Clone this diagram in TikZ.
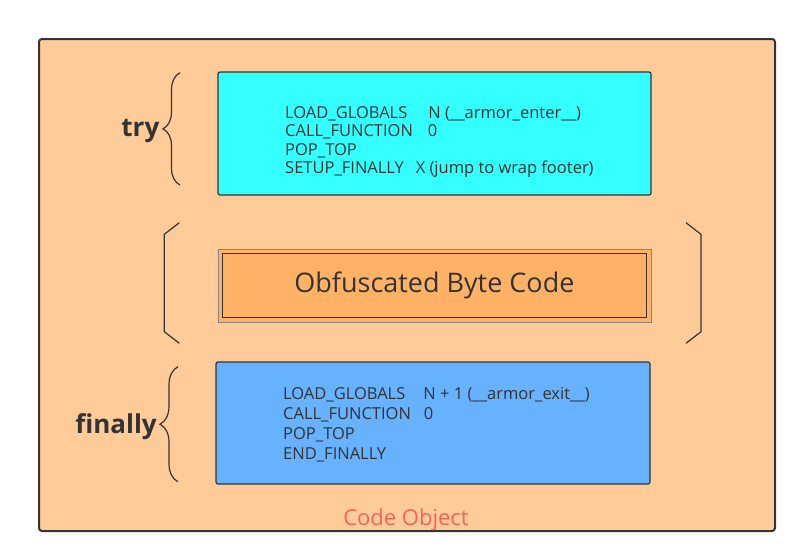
\documentclass[tikz,border=0pt]{standalone}
\usepackage{fontspec}
\setmainfont{Open Sans}
\usetikzlibrary{decorations.pathreplacing}

\definecolor{outerfill}{HTML}{FFCC99}
\definecolor{trycyan}{HTML}{33FFFF}
\definecolor{finblue}{HTML}{66B2FF}
\definecolor{obforange}{HTML}{FFB266}
\definecolor{linegray}{HTML}{333333}
\definecolor{codered}{HTML}{F2645A}

\tikzset{
    codebox/.style={draw=linegray, line width=1.2pt, rounded corners=2pt, inner sep=0pt},
    codetext/.style={font=\fontsize{16.5}{19}\selectfont, text=linegray, align=left, anchor=west, inner sep=0pt},
    blocklabel/.style={font=\fontsize{26}{30}\selectfont\bfseries, text=linegray, inner sep=0pt, anchor=base east},
    bracestyle/.style={decorate, decoration={brace, amplitude=#1}, line width=1.2pt, draw=linegray}
}

\begin{document}
\begin{tikzpicture}[x=1pt, y=-1pt]
    \useasboundingbox[fill=white] (0,0) rectangle (800,558);
    \node[codebox, line width=2pt, rounded corners=3pt, fill=outerfill,
        minimum width=736pt, minimum height=492pt] (codeobj) at (407,285) {};
    \node[codebox, fill=trycyan, minimum width=433pt, minimum height=123pt] (trybox) at (434.5,133.5) {};
    \node[codetext, font=\fontsize{16.5}{18.5}\selectfont] (trycode) at (285,142)
    {
        LOAD\_GLOBALS\hspace{21pt}N (\_\_armor\_enter\_\_)\\
        CALL\_FUNCTION\hspace{15pt}0\\
        POP\_TOP\\
        SETUP\_FINALLY\hspace{12pt}X (jump to wrap footer)
    };
    \node[draw=linegray!60, line width=0.8pt, fill=obforange, inner sep=0pt,
        minimum width=433pt, minimum height=73pt] (obfframe) at (434.6,285.6) {};
    \node[codebox, rounded corners=0pt, fill=obforange, minimum width=423.5pt, minimum height=64pt,
        font=\fontsize{27}{30}\selectfont, text=linegray] (obfcode) at (434.4,285.3) {Obfuscated Byte Code};
    \node[codebox, fill=finblue, minimum width=434pt, minimum height=122pt] (finbox) at (433,423) {};
    \node[codetext, font=\fontsize{16.5}{20}\selectfont] (fincode) at (283,424.5)
    {
        LOAD\_GLOBALS\hspace{18pt}N + 1 (\_\_armor\_exit\_\_)\\
        CALL\_FUNCTION\hspace{13pt}0\\
        POP\_TOP\\
        END\_FINALLY
    };
    \node[blocklabel] (trylabel) at (159.5,136.7) {try};
    \node[blocklabel] (finlabel) at (157,433.3) {finally};
    \node[font=\fontsize{22}{26}\selectfont, text=codered, inner sep=0pt, anchor=base] (objlabel) at (406,525) {Code Object};
    \draw[bracestyle=17pt] (180,185) -- (180,72.7);
    \draw[bracestyle=18pt] (178,481.7) -- (178,366.7);
    \draw[line width=1.2pt, draw=linegray] (179.3,222.7) -- (164.3,234.3) -- (164.3,331.7) -- (179.3,343.3);
    \draw[line width=1.2pt, draw=linegray] (686,222.7) -- (701,234.3) -- (701,331.7) -- (686,343.3);
\end{tikzpicture}
\end{document}
